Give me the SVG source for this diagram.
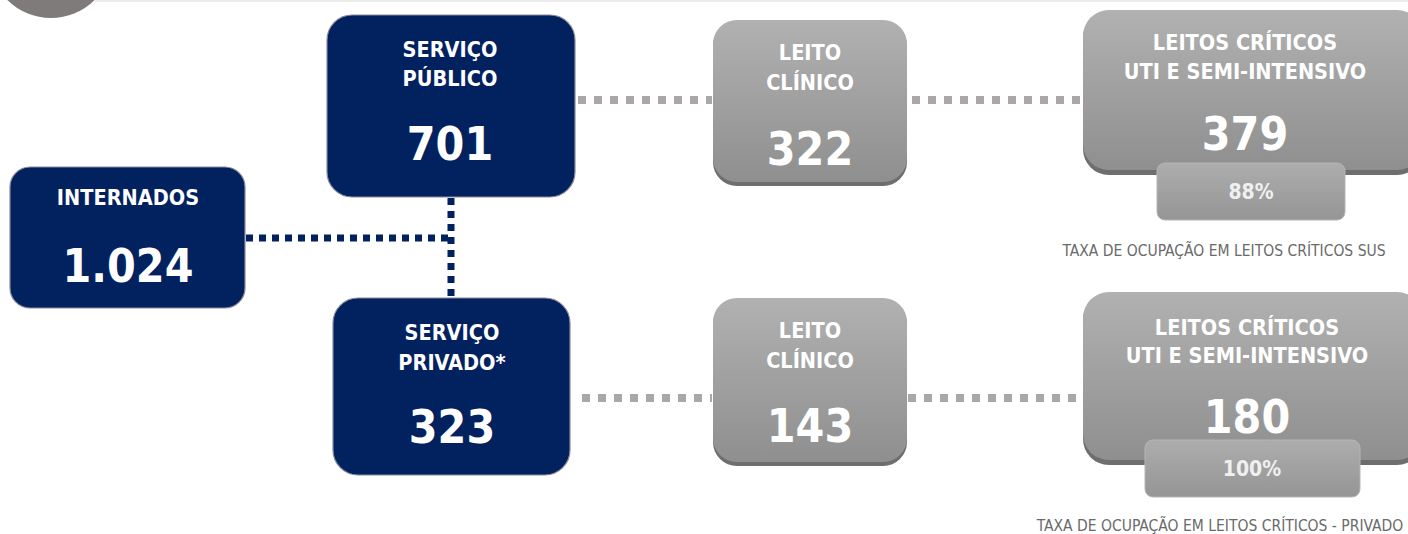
<svg xmlns="http://www.w3.org/2000/svg" width="1408" height="534" viewBox="0 0 1408 534">
<defs>
<linearGradient id="gg" x1="0" y1="0" x2="0" y2="1">
<stop offset="0" stop-color="#b1b1b1"/>
<stop offset="1" stop-color="#8f8f8f"/>
</linearGradient>
<linearGradient id="gs" x1="0" y1="0" x2="0" y2="1">
<stop offset="0" stop-color="#adadad"/>
<stop offset="1" stop-color="#959595"/>
</linearGradient>
</defs>
<style>
text{font-family:"DejaVu Sans Condensed","DejaVu Sans",sans-serif;font-weight:bold;text-anchor:middle;fill:#ffffff}
.navy{fill:#02215f;stroke:#8a8a9a;stroke-width:1.2}
.gray{fill:url(#gg)}
.shadow{fill:#6e6e6e}
.small{fill:url(#gs);stroke:#b5b5b5;stroke-width:1}
.lbl{font-size:21.5px}
.big{font-size:46px}
.pct{font-size:21px;fill:#f0f0f0}
.note{font-size:15.5px;font-weight:normal;fill:#6a6a6a}
.cn{stroke:#02215f;stroke-width:7;stroke-dasharray:7 6;fill:none}
.cg{stroke:#aaa7a6;stroke-width:8;stroke-dasharray:8 8;fill:none}
</style>
<rect x="95" y="0" width="1313" height="2" fill="#ececec"/>
<circle cx="51" cy="-44" r="62" fill="#7f7b7a"/>
<g id="connectors">
<path class="cn" d="M246 238 H450"/>
<path class="cn" d="M451 198 V298"/>
<path class="cg" d="M578 100 H712"/>
<path class="cg" d="M912 100 H1082"/>
<path class="cg" d="M582 398 H712"/>
<path class="cg" d="M908 398 H1082"/>
</g>
<g id="internados">
<rect class="navy" x="10" y="167" width="235" height="141" rx="20"/>
<text class="lbl" x="128" y="205">INTERNADOS</text>
<text class="big" x="128" y="282">1.024</text>
</g>
<g id="servico-publico">
<rect class="navy" x="327" y="15" width="248" height="182" rx="25"/>
<text class="lbl" x="450" y="57">SERVIÇO</text>
<text class="lbl" x="450" y="86">PÚBLICO</text>
<text class="big" x="450" y="160">701</text>
</g>
<g id="servico-privado">
<rect class="navy" x="333" y="298" width="237" height="177" rx="25"/>
<text class="lbl" x="452" y="340">SERVIÇO</text>
<text class="lbl" x="452" y="370">PRIVADO*</text>
<text class="big" x="452" y="443">323</text>
</g>
<g id="leito-clinico-publico">
<rect class="shadow" x="713" y="22" width="194" height="164" rx="24"/>
<rect class="gray" x="713" y="20" width="194" height="162" rx="24"/>
<text class="lbl" x="810" y="60">LEITO</text>
<text class="lbl" x="810" y="90">CLÍNICO</text>
<text class="big" x="810" y="165">322</text>
</g>
<g id="leito-clinico-privado">
<rect class="shadow" x="713" y="300" width="194" height="166" rx="24"/>
<rect class="gray" x="713" y="298" width="194" height="164" rx="24"/>
<text class="lbl" x="810" y="338">LEITO</text>
<text class="lbl" x="810" y="368">CLÍNICO</text>
<text class="big" x="810" y="442">143</text>
</g>
<g id="leitos-criticos-publico">
<rect class="shadow" x="1083" y="12" width="340" height="163" rx="26"/>
<rect class="gray" x="1083" y="10" width="340" height="160" rx="26"/>
<text class="lbl" x="1245" y="50">LEITOS CRÍTICOS</text>
<text class="lbl" x="1245" y="79">UTI E SEMI-INTENSIVO</text>
<text class="big" x="1245" y="150">379</text>
</g>
<g id="taxa-sus">
<rect class="small" x="1157" y="163" width="188" height="57" rx="8"/>
<text class="pct" x="1251" y="199">88%</text>
<text class="note" x="1224" y="256">TAXA DE OCUPAÇÃO EM LEITOS CRÍTICOS SUS</text>
</g>
<g id="leitos-criticos-privado">
<rect class="shadow" x="1083" y="294" width="340" height="171" rx="26"/>
<rect class="gray" x="1083" y="292" width="340" height="168" rx="26"/>
<text class="lbl" x="1247" y="335">LEITOS CRÍTICOS</text>
<text class="lbl" x="1247" y="363">UTI E SEMI-INTENSIVO</text>
<text class="big" x="1247" y="433">180</text>
</g>
<g id="taxa-privado">
<rect class="small" x="1145" y="440" width="215" height="57" rx="8"/>
<text class="pct" x="1252" y="476">100%</text>
<text class="note" x="1220" y="531">TAXA DE OCUPAÇÃO EM LEITOS CRÍTICOS - PRIVADO</text>
</g>
</svg>
